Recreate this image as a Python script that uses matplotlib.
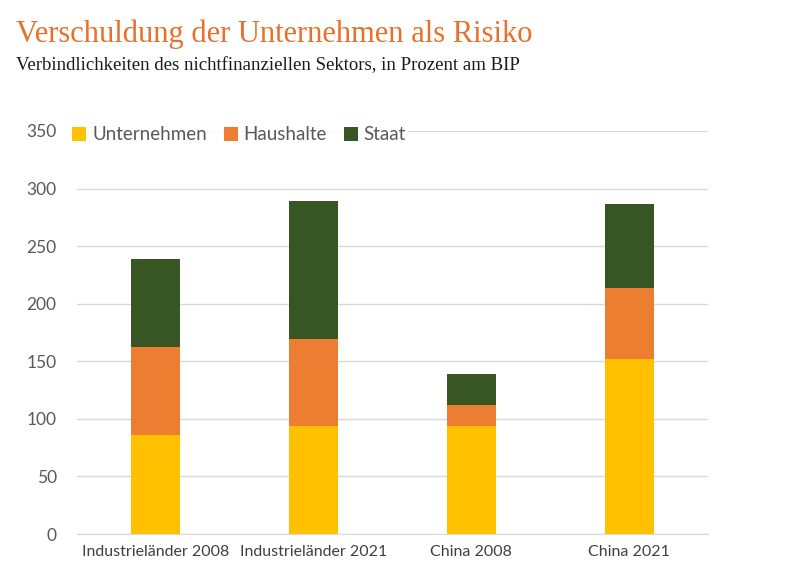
import numpy as np
import matplotlib
matplotlib.use('Agg')
import matplotlib.pyplot as plt

# Data (percent of GDP)
categories = ['Industrieländer 2008', 'Industrieländer 2021', 'China 2008', 'China 2021']
unternehmen = [86, 94, 94, 152]
haushalte = [76, 75, 18, 62]
staat = [77, 120, 27, 73]
yticks = [0, 50, 100, 150, 200, 250, 300, 350]

plt.rcParams['font.family'] = ['Lato', 'DejaVu Sans']

fig = plt.figure(figsize=(8, 5.76), dpi=100)
ax = fig.add_axes([0.096, 0.0729, 0.789, 0.6997])

x = np.arange(len(categories))
u = np.array(unternehmen)
h = np.array(haushalte)
s = np.array(staat)
w = 0.31
ax.bar(x, u, w, color='#FFC000', label='Unternehmen', zorder=3)
ax.bar(x, h, w, bottom=u, color='#ED7D31', label='Haushalte', zorder=3)
ax.bar(x, s, w, bottom=u + h, color='#375623', label='Staat', zorder=3)

ax.set_xlim(-0.5, 3.5)
ax.set_ylim(0, 350)
ax.set_yticks(yticks)
ax.set_xticks(x)
ax.set_xticklabels(categories, fontsize=11.5, color='#404040')
ax.tick_params(axis='y', labelsize=12.5, colors='#595959', length=0, pad=14.5)
ax.tick_params(axis='x', length=0, pad=8)
ax.grid(axis='y', color='#D9D9D9', linewidth=1, zorder=0)
for sp in ['top', 'right', 'left']:
    ax.spines[sp].set_visible(False)
ax.spines['bottom'].set_color('#D9D9D9')

leg = ax.legend(loc='lower left', bbox_to_anchor=(-0.01, 0.965), ncol=3, frameon=True,
                fontsize=13.5, handlelength=0.75, handleheight=0.75, handletextpad=0.3,
                columnspacing=0.9, borderpad=0.1, borderaxespad=0)
leg.get_frame().set_facecolor('white')
leg.get_frame().set_edgecolor('white')
for t in leg.get_texts():
    t.set_color('#595959')

fig.text(0.02, 0.927, 'Verschuldung der Unternehmen als Risiko', fontsize=22,
         color='#E8702A', family='Liberation Serif', va='baseline')
fig.text(0.02, 0.879, 'Verbindlichkeiten des nichtfinanziellen Sektors, in Prozent am BIP',
         fontsize=13.5, color='#1a1a1a', family='Liberation Serif', va='baseline')

fig.savefig('out.png', dpi=100)
